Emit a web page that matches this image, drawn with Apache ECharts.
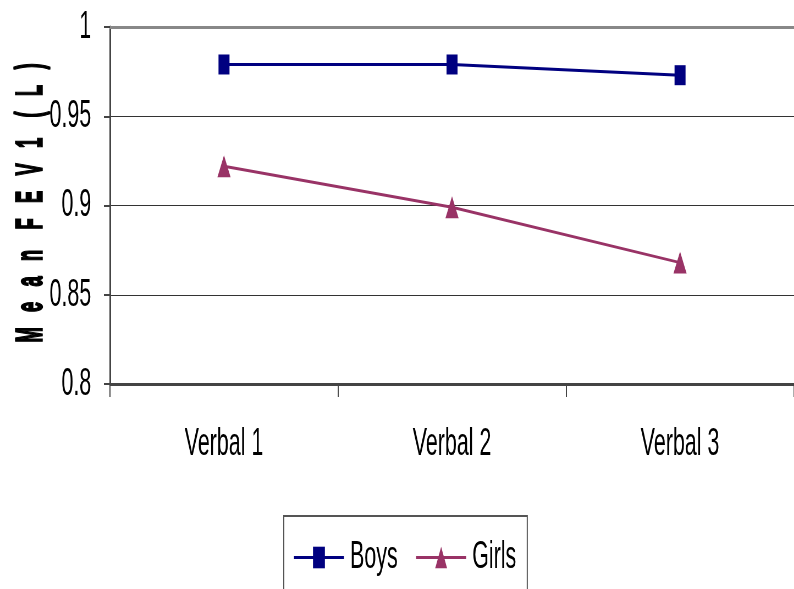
<!DOCTYPE html>
<html>
<head>
<meta charset="utf-8">
<script src="https://cdn.jsdelivr.net/npm/echarts@6/dist/echarts.min.js"></script>
<style>
  html, body { margin: 0; padding: 0; background: #fff; overflow: hidden; }
  #frame { width: 794px; height: 589px; overflow: hidden; position: relative; }
  /* The chart is laid out on a wide canvas and condensed horizontally,
     which gives the narrow lettering and tall markers of this figure. */
  #chart { width: 1444px; height: 589px; transform: scaleX(0.5499); transform-origin: 0 0; }
</style>
</head>
<body>
<div id="frame"><div id="chart"></div></div>
<script>
// Mean FEV1 per verbal condition
const categories = ['Verbal 1', 'Verbal 2', 'Verbal 3'];
const boys = [0.979, 0.979, 0.973];
const girls = [0.922, 0.899, 0.868];
const yTicks = { min: 0.8, max: 1, interval: 0.05 };
const yTitle = 'M   e   a   n    F   E   V   1    (   L   )';

const FONT = '"Liberation Sans", Arial, sans-serif';

const chart = echarts.init(document.getElementById('chart'));
chart.setOption({
  animation: false,
  backgroundColor: '#ffffff',
  grid: { left: 200, right: -3, top: 27, bottom: 205, containLabel: false },
  legend: {
    left: 516,
    top: 516,
    orient: 'horizontal',
    padding: [22, 20, 40, 17],
    itemGap: 32,
    itemWidth: 91,
    itemHeight: 27,
    borderColor: '#555',
    borderWidth: 2,
    lineStyle: { width: 3 },
    textStyle: { fontFamily: FONT, fontSize: 39, color: '#000', padding: [0, 0, 0, 6] },
    data: ['Boys', 'Girls']
  },
  graphic: [{
    // rotated axis title in heavy condensed lettering
    type: 'text',
    x: 57,
    y: 203,
    rotation: Math.PI / 2,
    scaleX: 0.47,
    scaleY: 1.75,
    style: {
      text: yTitle,
      font: 'bold 39px "Liberation Sans", Arial, sans-serif',
      fill: '#000',
      stroke: '#000',
      lineWidth: 2,
      textAlign: 'center',
      textVerticalAlign: 'middle'
    }
  }],
  xAxis: [{
    type: 'category',
    data: categories,
    boundaryGap: true,
    axisLine: { show: true, lineStyle: { color: '#444', width: 3 } },
    axisTick: { show: true, alignWithLabel: false, length: 13, lineStyle: { color: '#444', width: 2 } },
    axisLabel: { fontFamily: FONT, fontSize: 39, color: '#000', margin: 60, verticalAlign: 'middle', lineHeight: 39 },
    splitLine: { show: false }
  }, {
    type: 'category',
    data: categories,
    position: 'top',
    axisLine: { show: true, lineStyle: { color: '#888', width: 3 } },
    axisTick: { show: false },
    axisLabel: { show: false }
  }],
  yAxis: {
    type: 'value',
    min: yTicks.min,
    max: yTicks.max,
    interval: yTicks.interval,
    axisLine: { show: true, lineStyle: { color: '#444', width: 3 } },
    axisTick: { show: true, length: 11, lineStyle: { color: '#444', width: 2 } },
    axisLabel: {
      fontFamily: FONT, fontSize: 39, color: '#000', margin: 34,
      formatter: v => String(+v.toFixed(2))
    },
    splitLine: { show: true, lineStyle: { color: '#333', width: 1 } }
  },
  series: [{
    name: 'Boys',
    type: 'line',
    data: boys,
    color: '#000080',
    symbol: 'rect',
    symbolSize: [20, 20],
    lineStyle: { width: 3, color: '#000080' },
    itemStyle: { color: '#000080' }
  }, {
    name: 'Girls',
    type: 'line',
    data: girls,
    color: '#993366',
    symbol: 'triangle',
    symbolSize: [24, 22],
    lineStyle: { width: 3, color: '#993366' },
    itemStyle: { color: '#993366' }
  }]
});
</script>
</body>
</html>
